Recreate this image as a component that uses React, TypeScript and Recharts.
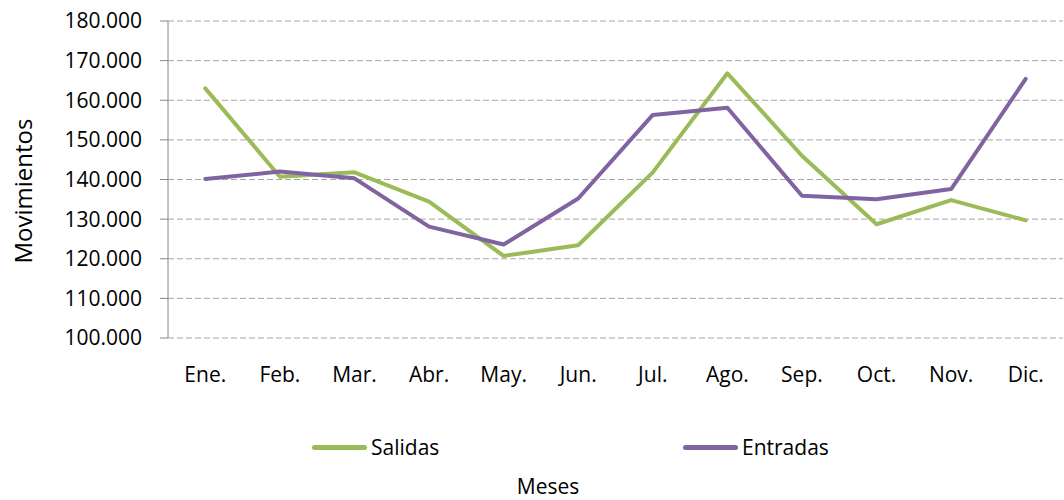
import React from 'react';
import { LineChart, Line, XAxis, YAxis, CartesianGrid, Legend } from 'recharts';

const months = ['Ene.', 'Feb.', 'Mar.', 'Abr.', 'May.', 'Jun.', 'Jul.', 'Ago.', 'Sep.', 'Oct.', 'Nov.', 'Dic.'];
const salidas = [163000, 140700, 141800, 134400, 120700, 123400, 141800, 166800, 146000, 128700, 134800, 129700];
const entradas = [140100, 142000, 140300, 128100, 123600, 135200, 156300, 158100, 135900, 135000, 137600, 165400];
const yTicks = [100000, 110000, 120000, 130000, 140000, 150000, 160000, 170000, 180000];
const edgeTicks = [0, 1, 2, 3, 4, 5, 6, 7, 8, 9, 10, 11, 12];

const data = months.map((month, i) => ({ month, salidas: salidas[i], entradas: entradas[i] }));

const FONT = '"Open Sans", Calibri, sans-serif';
const AXIS = '#868686';
// half a category band, so points sit between the boundary ticks
const HALF_BAND = 895 / 12 / 2;

const fmt = (v: number) => String(v).replace(/\B(?=(\d{3})+(?!\d))/g, '.');

const legendLeft: Record<string, number> = { Salidas: 312, Entradas: 683 };

const renderLegend = (props: any) => {
  const payload = props.payload || [];
  return (
    <div style={{ position: 'relative', width: 1064, height: 26 }}>
      {payload.map((entry: any) => (
        <div
          key={entry.value}
          style={{ position: 'absolute', left: legendLeft[entry.value] ?? 0, top: 0, display: 'flex', alignItems: 'center', height: 26 }}
        >
          <span style={{ display: 'inline-block', width: 55, height: 5, borderRadius: 3, background: entry.color }} />
          <span style={{ marginLeft: 4, fontFamily: FONT, fontSize: 21, color: '#000' }}>{entry.value}</span>
        </div>
      ))}
    </div>
  );
};

export default function App() {
  return (
    <div style={{ position: 'absolute', left: 0, top: 0, width: 1064, height: 500, background: '#fff' }}>
      <LineChart width={1064} height={500} data={data} margin={{ top: 21, right: 1, left: 0, bottom: 0 }}>
        <CartesianGrid vertical={false} stroke="#a6a6a6" strokeDasharray="6 3" />
        <XAxis
          xAxisId="edge"
          type="number"
          domain={[0, 12]}
          allowDataOverflow
          ticks={edgeTicks}
          tick={false}
          height={0}
          tickSize={8}
          stroke={AXIS}
          axisLine={{ stroke: AXIS }}
          tickLine={{ stroke: AXIS }}
        />
        <XAxis
          xAxisId="cat"
          dataKey="month"
          height={162}
          padding={{ left: HALF_BAND, right: HALF_BAND }}
          axisLine={false}
          tickLine={false}
          tickSize={8}
          tickMargin={21}
          tick={{ fill: '#000', fontSize: 21, fontFamily: FONT }}
          interval={0}
          label={{
            content: () => (
              <text x={548} y={494} textAnchor="middle" fill="#000" fontSize={21} fontFamily={FONT}>
                Meses
              </text>
            ),
          }}
        />
        <YAxis
          domain={[100000, 180000]}
          ticks={yTicks}
          width={168}
          tickSize={8}
          tickMargin={18}
          tickFormatter={fmt}
          axisLine={{ stroke: AXIS }}
          tickLine={{ stroke: AXIS }}
          tick={{ fill: '#000', fontSize: 21, fontFamily: FONT }}
          label={{
            content: () => (
              <text
                x={22}
                y={191}
                transform="rotate(-90 22 191)"
                textAnchor="middle"
                dominantBaseline="central"
                fill="#000"
                fontSize={24}
                fontFamily={FONT}
              >
                Movimientos
              </text>
            ),
          }}
        />
        <Legend
          verticalAlign="middle"
          align="center"
          layout="horizontal"
          wrapperStyle={{ top: 434, left: 0, width: 1064 }}
          content={renderLegend}
        />
        <Line
          xAxisId="cat"
          type="linear"
          dataKey="salidas"
          name="Salidas"
          stroke="#9bbb59"
          strokeWidth={4}
          strokeLinecap="round"
          strokeLinejoin="round"
          dot={false}
          activeDot={false}
          isAnimationActive={false}
        />
        <Line
          xAxisId="cat"
          type="linear"
          dataKey="entradas"
          name="Entradas"
          stroke="#8064a2"
          strokeWidth={4}
          strokeLinecap="round"
          strokeLinejoin="round"
          dot={false}
          activeDot={false}
          isAnimationActive={false}
        />
      </LineChart>
    </div>
  );
}
